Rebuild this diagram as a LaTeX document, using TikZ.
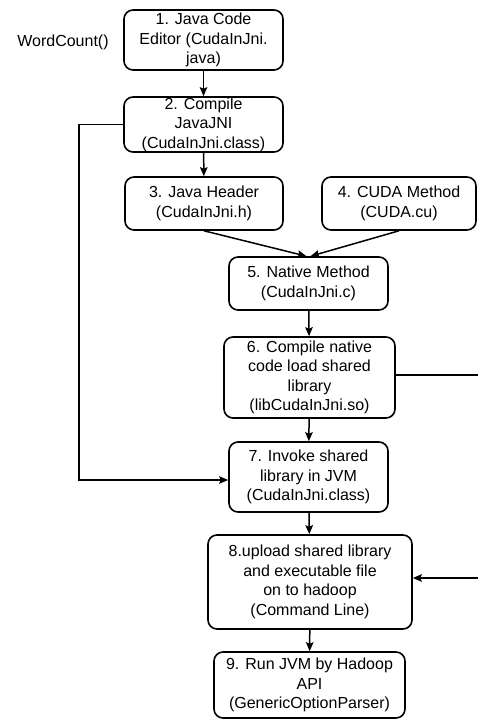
\documentclass[tikz,border=0pt]{standalone}
\usepackage{fontspec}
\setmainfont{Liberation Sans}
\usepackage{tikz}
\usetikzlibrary{arrows.meta}

\begin{document}
\begin{tikzpicture}[x=1pt, y=-1pt,
  every node/.style={font=\fontsize{16}{19.5}\selectfont, align=center, inner sep=0pt},
  box/.style={draw, line width=1.6pt, rounded corners=9pt},
  arr/.style={line width=1.5pt, -{Stealth[length=9pt, width=7.5pt, inset=1.5pt]}}]
\useasboundingbox (0,0) rectangle (477,719);
\node[box, minimum width=159pt, minimum height=60pt] (b1) at (203.5, 40) {1. Java Code\\Editor (CudaInJni.\\java)};
\node[box, minimum width=159pt, minimum height=55pt] (b2) at (203.5, 124.5) {2. Compile\\JavaJNI\\(CudaInJni.class)};
\node[box, minimum width=158pt, minimum height=53pt] (b3) at (204, 203.5) {3. Java Header\\(CudaInJni.h)};
\node[box, minimum width=154pt, minimum height=53pt] (b4) at (399, 203.5) {4. CUDA Method\\(CUDA.cu)};
\node[box, minimum width=159pt, minimum height=53pt] (b5) at (308.5, 283.5) {5. Native Method\\(CudaInJni.c)};
\node[box, minimum width=171pt, minimum height=81pt] (b6) at (309.5, 377.5) {6. Compile native\\code load shared\\library\\(libCudaInJni.so)};
\node[box, minimum width=159pt, minimum height=70pt] (b7) at (308.5, 477) {7. Invoke shared\\library in JVM\\(CudaInJni.class)};
\node[box, minimum width=204pt, minimum height=94pt] (b8) at (310, 582) {8.upload shared library\\and executable file\\on to hadoop\\(Command Line)};
\node[box, minimum width=191pt, minimum height=66pt] (b9) at (309.5, 685) {9. Run JVM by Hadoop\\API\\(GenericOptionParser)};
\node (wc) at (63, 42) {WordCount()};
\coordinate (lft) at (79, 0);
\coordinate (rgt) at (481, 0);
\draw[arr] (b1) -- (b2);
\draw[arr] (b2) -- (b3);
\draw[arr] (b3.south) -- ([xshift=-2pt]b5.north);
\draw[arr] (b4.south) -- ([xshift=2pt]b5.north);
\draw[arr] (b5) -- (b6);
\draw[arr] (b6) -- (b7);
\draw[arr] (b7) -- (b8);
\draw[arr] (b8) -- (b9);
\draw[arr] (b2.west) -- (b2.west -| lft) |- ([yshift=-3pt]b7.west);
\draw[arr] ([yshift=2.5pt]b6.east) -- ([yshift=2.5pt]b6.east -| rgt) |- ([yshift=4pt]b8.east);
\end{tikzpicture}
\end{document}
